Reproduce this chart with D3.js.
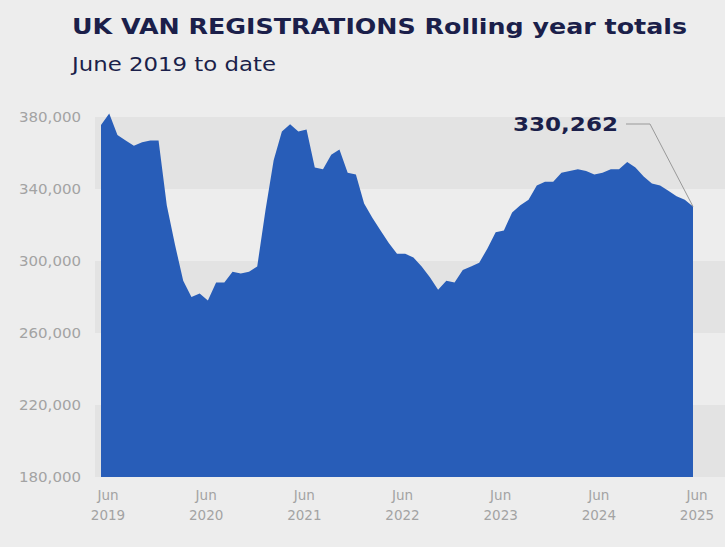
<!DOCTYPE html>
<html><head><meta charset="utf-8">
<script src="https://cdn.jsdelivr.net/npm/d3@7"></script>
<style>body{margin:0;background:#ededed}svg{display:block}</style></head>
<body><svg id="c" width="725" height="547"></svg>
<script>
// Monthly rolling-year totals, May 2019 .. Jun 2025
const values = [375500,382000,370000,367000,364000,366000,367000,367000,331000,309000,289000,280000,282000,278000,288000,288000,294000,293000,294000,297000,328000,356000,372000,376000,372000,373000,352000,351000,359000,362000,349000,348000,332000,324000,317000,310000,304000,304000,302000,297000,291000,284000,289000,288000,295000,297000,299000,307000,316000,317000,327000,331000,334000,342000,344000,344000,349000,350000,351000,350000,348000,349000,351000,351000,355000,352000,347000,343000,342000,339000,336000,334000,330262];
const yTicks = [180000,220000,260000,300000,340000,380000];
const xTickMonths = ["Jun","Jun","Jun","Jun","Jun","Jun","Jun"];
const xTickYears = ["2019","2020","2021","2022","2023","2024","2025"];
const title = "UK VAN REGISTRATIONS Rolling year totals";
const subtitle = "June 2019 to date";
const lastLabel = "330,262";

const svg = d3.select("#c");
const n = values.length;
const x = d3.scaleLinear().domain([0, n-1]).range([101, 693]);
const xt = d3.scaleLinear().domain([0, 6]).range([108, 697]);
const y = d3.scaleLinear().domain([180000, 380000]).range([477, 117]);
const F = "DejaVu Sans, Verdana, sans-serif";

for (let i = 0; i < yTicks.length-1; i++) {
  if (i % 2 === 0) svg.append("rect").attr("x", 95).attr("width", 630)
    .attr("y", y(yTicks[i+1])).attr("height", y(yTicks[i]) - y(yTicks[i+1])).attr("fill", "#e3e3e3");
}
svg.append("path").datum(values)
  .attr("d", d3.area().x((d,i)=>x(i)).y0(y(180000)).y1(d=>y(d)))
  .attr("fill", "#285db8");

svg.selectAll(".yl").data(yTicks).join("text")
  .attr("x", 81).attr("y", d=>y(d)+5).attr("text-anchor","end")
  .attr("font-family",F).attr("font-size",13.5).attr("fill","#a3a3a3")
  .attr("textLength",62).attr("lengthAdjust","spacingAndGlyphs")
  .text(d=>d3.format(",")(d));
svg.selectAll(".xm").data(xTickMonths).join("text")
  .attr("x",(d,i)=>xt(i)).attr("y",500).attr("text-anchor","middle")
  .attr("font-family",F).attr("font-size",13.5).attr("fill","#a3a3a3").text(d=>d);
svg.selectAll(".xy").data(xTickYears).join("text")
  .attr("x",(d,i)=>xt(i)).attr("y",520).attr("text-anchor","middle")
  .attr("font-family",F).attr("font-size",13.5).attr("fill","#a3a3a3").text(d=>d);

svg.append("text").attr("x",72).attr("y",34).attr("font-family",F).attr("font-weight","bold")
  .attr("font-size",21).attr("fill","#1b1f4a").attr("textLength",615).attr("lengthAdjust","spacingAndGlyphs").text(title);
svg.append("text").attr("x",72).attr("y",71).attr("font-family",F)
  .attr("font-size",19).attr("fill","#1b1f4a").attr("textLength",204).attr("lengthAdjust","spacingAndGlyphs").text(subtitle);

const lx = x(n-1), ly = y(values[n-1]);
svg.append("path").attr("d",`M${lx},${ly} L650,124 L626,124`).attr("fill","none").attr("stroke","#999").attr("stroke-width",1);
svg.append("text").attr("x",618).attr("y",131).attr("text-anchor","end").attr("font-family",F)
  .attr("font-weight","bold").attr("font-size",19).attr("fill","#1b1f4a")
  .attr("textLength",105).attr("lengthAdjust","spacingAndGlyphs").text(lastLabel);
</script></body></html>
